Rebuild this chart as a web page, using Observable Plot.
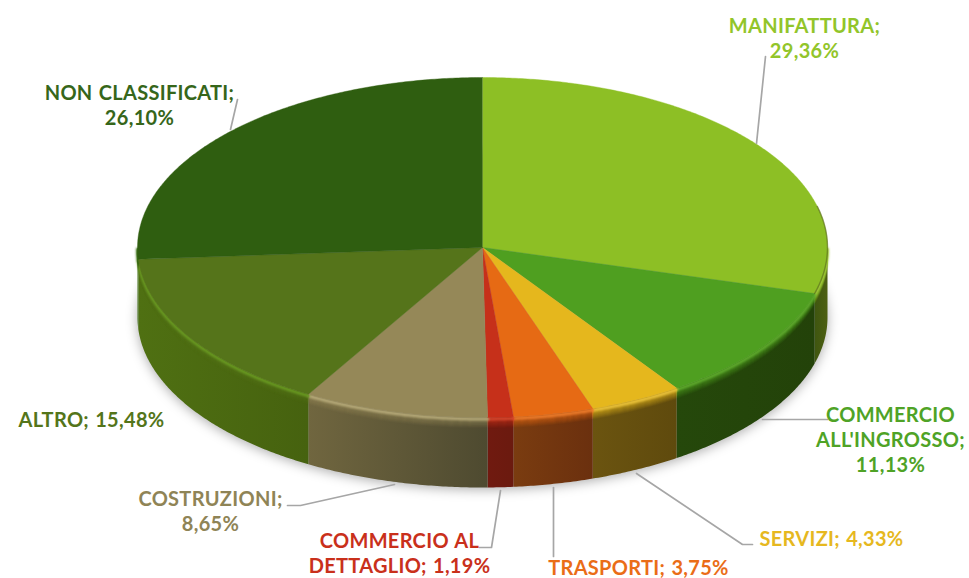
<!DOCTYPE html>
<html><head><meta charset="utf-8">
<script src="https://cdn.jsdelivr.net/npm/d3@7"></script>
<script src="https://cdn.jsdelivr.net/npm/@observablehq/plot@0.6"></script>
<style>html,body{margin:0;padding:0;background:#fff}svg{display:block}</style>
</head><body><div id="chart"></div>
<script>
const categories = ["MANIFATTURA","COMMERCIO ALL'INGROSSO","SERVIZI","TRASPORTI","COMMERCIO AL DETTAGLIO","COSTRUZIONI","ALTRO","NON CLASSIFICATI"];
const values = [29.36,11.13,4.33,3.75,1.19,8.65,15.48,26.10];
const labelTexts = ["MANIFATTURA;\n29,36%","COMMERCIO\nALL'INGROSSO;\n11,13%","SERVIZI; 4,33%","TRASPORTI; 3,75%","COMMERCIO AL\nDETTAGLIO; 1,19%","COSTRUZIONI;\n8,65%","ALTRO; 15,48%","NON CLASSIFICATI;\n26,10%"];
const labelColors = ["#92c52a","#4fa326","#e6b81f","#ea6d17","#c9301b","#8f8456","#54751a","#36661a"];
const faceColors = ["#8dbf25","#4f9f20","#e5b71d","#e66a14","#c6301a","#958858","#55741a","#2f5e10"];
const rimColors = ["#a5cc40","#62ad30","#f0c840","#f08030","#d84a30","#bdb080","#6c9e22","#3d7316"];
const wallLeft = ["#3f5610","#25480b","#6b5410","#7a3c10","#701a10","#70663f","#4f7012","#3f7015"];
const wallRight = ["#4d5f12","#234209","#5f4a0d","#6b300e","#6b1a0f","#4e4a30","#46620f","#3a6a12"];
const labelX = [804,890,831,638,399,210,91,139];
const labelY = [36.5,438,537,566,552,510,418,104];
const leaders = [
  [[765,56],[756,143]],
  [[827,419],[762,419]],
  [[752,544],[742,544],[636,473]],
  [[553,556],[553,487]],
  [[479,547],[491,547],[500,490]],
  [[287,505],[300,505],[394,484]],
  [],
  [[237,99],[230,129]]
];
const cx = 482, cy = 247, rx = 345, ry = 170, depth = 70;
const pt = (deg, off = 0) => { const a = deg * Math.PI / 180; return [cx + rx * Math.sin(a), cy - ry * Math.cos(a) + off]; };
const arc = (a0, a1, off = 0) => { const n = Math.max(2, Math.ceil((a1 - a0) / 0.5)); return d3.range(n + 1).map(i => pt(a0 + (a1 - a0) * i / n, off)); };
const total = d3.sum(values);
let acc = 0;
const slices = values.map(v => { const a0 = acc / total * 360; acc += v; return [a0, acc / total * 360]; });
const X = d => d[0], Y = d => d[1];
const defs = () => {
  const s = d3.create("svg:defs");
  slices.forEach((_, i) => {
    const g = s.append("linearGradient").attr("id", "wall" + i).attr("x1", 0).attr("x2", 1).attr("y1", 0).attr("y2", 0);
    g.append("stop").attr("offset", 0).attr("stop-color", wallLeft[i]);
    g.append("stop").attr("offset", 1).attr("stop-color", wallRight[i]);
  });
  return s.node();
};
const marks = [defs];
marks.push(Plot.line(arc(0, 360, depth + 2), {x: X, y: Y, fill: "#000", fillOpacity: 0.32, stroke: "none", imageFilter: "blur(6px)"}));
slices.forEach(([a0, a1], i) => {
  const b0 = Math.max(a0, 90), b1 = Math.min(a1, 270);
  if (b1 <= b0) return;
  const poly = [...arc(b0, b1, 0), ...arc(b0, b1, depth).reverse()];
  marks.push(Plot.line(poly, {x: X, y: Y, fill: `url(#wall${i})`, stroke: "none"}));
});
slices.forEach(([a0, a1], i) => {
  const b0 = Math.max(a0, 90), b1 = Math.min(a1, 270);
  if (b1 <= b0) return;
  for (let k = 10; k >= 1; k--) {
    marks.push(Plot.line(arc(b0, b1, k), {x: X, y: Y, stroke: faceColors[i], strokeWidth: 1.6, strokeOpacity: (1 - k / 11) * 0.6}));
  }
  marks.push(Plot.line(arc(b0, b1, 1.5), {x: X, y: Y, stroke: rimColors[i], strokeWidth: 3, strokeOpacity: 0.9, imageFilter: "blur(0.8px)"}));
});
slices.forEach(([a0, a1], i) => {
  const poly = [[cx, cy], ...arc(a0, a1, 0)];
  marks.push(Plot.line(poly, {x: X, y: Y, fill: faceColors[i], stroke: faceColors[i], strokeWidth: 0.4}));
});
marks.push(Plot.line(arc(76, slices[0][1], 0), {x: X, y: Y, stroke: "#57681a", strokeWidth: 1.4, strokeOpacity: 0.6, imageFilter: "blur(0.5px)"}));
leaders.forEach(l => { if (l.length) marks.push(Plot.line(l, {x: X, y: Y, stroke: "#a6a6a6", strokeWidth: 1.7})); });
const rows = categories.map((c, i) => ({c, t: labelTexts[i], x: labelX[i], y: labelY[i], col: labelColors[i]}));
marks.push(Plot.text(rows, {x: "x", y: "y", text: "t", fill: d => d.col, lineAnchor: "middle", textAnchor: "middle", lineHeight: 1.25, fontSize: 20, fontWeight: 700, fontFamily: "Lato"}));
const plot = Plot.plot({
  width: 969, height: 578, margin: 0,
  style: {background: "#fff", letterSpacing: "0.3px", wordSpacing: "1px"},
  x: {domain: [0, 969], range: [0, 969], axis: null},
  y: {domain: [0, 578], range: [0, 578], axis: null},
  color: {type: "identity"},
  marks
});
document.getElementById("chart").append(plot);
</script></body></html>
